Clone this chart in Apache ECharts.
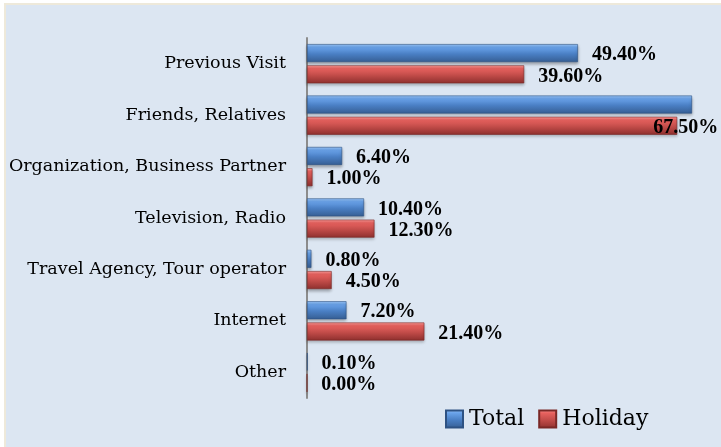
<!DOCTYPE html>
<html>
<head>
<meta charset="utf-8">
<script src="https://cdn.jsdelivr.net/npm/echarts@6/dist/echarts.min.js"></script>
<style>
  html, body { margin: 0; padding: 0; background: #fff; }
  .bg { position: absolute; left: 4px; top: 3px; right: 0; bottom: 0;
        background: #dce6f2; border-left: 2px solid #eee9da; border-top: 2px solid #eee9da; }
  #chart { position: absolute; left: 0; top: 0; width: 721px; height: 447px; }
</style>
</head>
<body>
<div class="bg"></div>
<div id="chart"></div>
<script>
// categories, top to bottom
var categories = ['Previous Visit', 'Friends, Relatives', 'Organization, Business Partner',
  'Television, Radio', 'Travel Agency, Tour operator', 'Internet', 'Other'];
// percent values
var totalValues = [49.4, 70.2, 6.4, 10.4, 0.8, 7.2, 0.1];
var holidayValues = [39.6, 67.5, 1.0, 12.3, 4.5, 21.4, 0.0];
var seriesNames = ['Total', 'Holiday'];

var serif = 'DejaVu Serif';

function grad(c) {
  return new echarts.graphic.LinearGradient(0, 0, 0, 1, [
    { offset: 0, color: c[0] },
    { offset: 0.18, color: c[1] },
    { offset: 0.55, color: c[2] },
    { offset: 1, color: c[3] }
  ]);
}
var blueGrad = ['#9cc8fb', '#6aa3ea', '#4a7fc4', '#365e93'];
var redGrad = ['#ff9d9a', '#e8625f', '#c24c49', '#8e302e'];

function labelOf() {
  return {
    show: true,
    position: 'right',
    distance: 14,
    offset: [0, 2],
    color: '#000',
    fontFamily: 'Liberation Serif',
    fontWeight: 'bold',
    fontSize: 20,
    formatter: function (p) { return p.value.toFixed(2) + '%'; }
  };
}

// Friends total label falls off the chart, Friends holiday label sits over the bar end
var totalData = totalValues.map(function (v, i) {
  return i === 1 ? { value: v, label: { show: false } } : v;
});
var holidayData = holidayValues.map(function (v, i) {
  return i === 1 ? { value: v, label: { offset: [-38, 2] } } : v;
});

var chart = echarts.init(document.getElementById('chart'));
chart.setOption({
  animation: false,
  grid: { left: 307, right: 29, top: 38, bottom: 49 },
  legend: {
    left: 440, top: 403,
    itemWidth: 17, itemHeight: 17, itemGap: 14,
    icon: 'rect',
    textStyle: { fontFamily: serif, fontSize: 22, color: '#000', padding: [0, 0, 0, 1] },
    data: seriesNames
  },
  xAxis: {
    type: 'value', min: 0, max: 70.2, show: false
  },
  yAxis: {
    type: 'category',
    inverse: true,
    data: categories,
    axisLine: { show: true, lineStyle: { color: '#8c8c8c', width: 2 } },
    axisTick: { show: false },
    axisLabel: { fontFamily: serif, fontSize: 17.5, color: '#000', margin: 21 }
  },
  series: [
    {
      name: seriesNames[0], type: 'bar', data: totalData,
      barWidth: 18, barGap: '18%',
      itemStyle: { color: grad(blueGrad), borderColor: '#2e5283', borderWidth: 0.6,
        shadowColor: 'rgba(0,0,0,0.3)', shadowBlur: 3, shadowOffsetY: 2 },
      label: labelOf()
    },
    {
      name: seriesNames[1], type: 'bar', data: holidayData,
      barWidth: 18,
      itemStyle: { color: grad(redGrad), borderColor: '#7a2826', borderWidth: 0.6,
        shadowColor: 'rgba(0,0,0,0.3)', shadowBlur: 3, shadowOffsetY: 2 },
      label: labelOf()
    }
  ]
});
</script>
</body>
</html>
